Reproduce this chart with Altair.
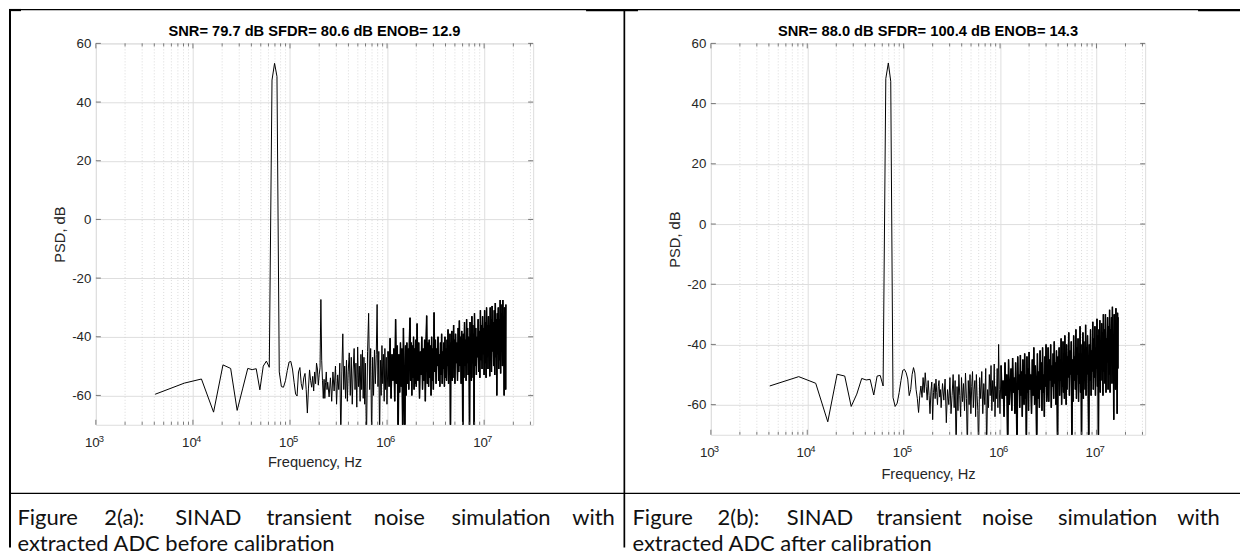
import altair as alt
import pandas as pd

# ---------------- data ----------------
FREQ_KHZ = [
    4.08, 8.16, 12.24, 16.32, 20.4, 24.48, 28.56, 32.64, 36.72, 40.8,
    44.88, 48.96, 53.04, 57.12, 61.2, 65.28, 69.36, 73.44, 77.52, 81.6,
    85.7, 89.8, 93.8, 97.9, 102.0, 106.1, 110.2, 114.2, 118.3, 122.4,
    126.5, 130.6, 134.6, 138.7, 142.8, 146.9, 151.0, 155.0, 159.1, 163.2,
    167.3, 171.4, 175.4, 179.5, 183.6, 187.7, 191.8, 195.8, 199.9, 204.0,
    208.1, 212.2, 216.2, 220.3, 224.4, 228.5, 232.6, 236.6, 240.7, 244.8,
    253, 261, 269, 277, 285, 294, 302, 310, 318, 326,
    334, 342, 350, 358, 366, 374, 382, 390, 398, 408,
    418, 428, 438, 448, 458, 468, 478, 488, 498, 508,
    518, 528, 538, 548, 558, 568, 578, 588, 598, 614,
    630, 646, 662, 678, 694, 710, 726, 742, 758, 774,
    790, 806, 822, 838, 854, 870, 886, 902, 918, 934,
    950, 966, 982, 998, 1025, 1050, 1075, 1100, 1125, 1150,
    1175, 1200, 1225, 1250, 1275, 1300, 1325, 1350, 1375, 1400,
    1425, 1450, 1475, 1500, 1525, 1550, 1575, 1600, 1625, 1650,
    1675, 1700, 1725, 1750, 1775, 1800, 1825, 1850, 1875, 1900,
    1925, 1950, 1975, 2000, 2040, 2080, 2120, 2160, 2200, 2240,
    2280, 2320, 2360, 2400, 2440, 2480, 2520, 2560, 2600, 2640,
    2680, 2720, 2760, 2800, 2840, 2880, 2920, 2960, 3000, 3050,
    3100, 3150, 3200, 3250, 3300, 3350, 3400, 3450, 3500, 3550,
    3600, 3650, 3700, 3750, 3800, 3850, 3900, 3950, 4000, 4050,
    4100, 4150, 4200, 4250, 4300, 4350, 4400, 4450, 4500, 4550,
    4600, 4650, 4700, 4750, 4800, 4850, 4900, 4950, 5000, 5080,
    5160, 5240, 5320, 5400, 5480, 5560, 5640, 5720, 5800, 5880,
    5960, 6040, 6120, 6200, 6280, 6360, 6440, 6520, 6600, 6680,
    6760, 6840, 6920, 7000, 7080, 7160, 7240, 7320, 7400, 7480,
    7560, 7640, 7720, 7800, 7880, 7960, 8080, 8200, 8320, 8440,
    8560, 8680, 8800, 8920, 9040, 9160, 9280, 9400, 9520, 9640,
    9760, 9880, 10000, 10120, 10240, 10360, 10480, 10600, 10720, 10840,
    10960, 11080, 11200, 11320, 11440, 11560, 11680, 11800, 11920, 12080,
    12240, 12400, 12560, 12720, 12880, 13040, 13200, 13360, 13520, 13680,
    13840, 14000, 14160, 14320, 14480, 14640, 14800, 14960, 15120, 15280,
    15440, 15600, 15760, 15920, 16080, 16240, 16400, 16560, 16680, 16760,
]

PSD_A_DB = [
    -59.6, -55.8, -54.4, -65.7, -49.6, -50.8, -65.1, -57.5, -50.8, -51.2,
    -50.9, -58.1, -50.0, -48.3, -50.4, 47.5, 53.2, 48.7, -52.0, -57.0,
    -57.2, -55.0, -51.5, -48.6, -48.4, -51.0, -55.5, -59.5, -60.2, -52.0,
    -50.5, -56.0, -58.0, -54.0, -52.5, -58.0, -66.0, -57.5, -51.3, -55.0,
    -57.2, -53.5, -58.5, -52.0, -56.0, -49.0, -51.0, -56.5, -53.0, -50.5,
    -27.3, -48.0, -55.0, -61.0, -54.5, -61.0, -55.5, -52.0, -58.0, -55.5,
    -60.5, -54.0, -62.0, -52.0, -58.5, -50.0, -63.0, -53.0, -58.0, -49.0,
    -75.0, -52.0, -39.0, -58.0, -50.0, -61.0, -48.0, -62.0, -52.0, -45.5,
    -60.0, -47.0, -63.0, -51.0, -44.0, -58.0, -49.0, -64.0, -43.5, -57.0,
    -50.0, -62.0, -46.0, -58.0, -44.5, -61.0, -47.0, -63.0, -49.0, -76.0,
    -45.0, -32.0, -58.0, -44.0, -76.0, -47.0, -60.0, -44.5, -56.0, -46.0,
    -29.0, -57.0, -45.0, -76.0, -48.0, -60.0, -43.0, -56.0, -46.0, -62.0,
    -44.0, -58.0, -47.0, -63.0, -45.0, -57.0, -40.5, -61.0, -46.0, -55.0,
    -44.0, -62.0, -34.0, -56.0, -43.0, -76.0, -46.0, -59.0, -42.0, -57.0,
    -44.0, -76.0, -37.0, -58.0, -76.0, -43.0, -60.0, -42.0, -56.0, -44.0,
    -58.0, -41.0, -33.5, -55.0, -42.0, -60.0, -43.0, -54.0, -40.0, -58.0,
    -44.0, -56.0, -41.0, -57.0, -35.5, -55.0, -42.0, -61.0, -45.0, -53.0,
    -40.0, -58.0, -44.0, -55.0, -41.0, -62.0, -43.0, -32.8, -56.0, -42.0,
    -57.0, -41.0, -54.0, -43.0, -60.0, -40.0, -55.0, -44.0, -58.0, -31.7,
    -52, -41, -56, -44, -50, -40, -55, -46, -57, -42,
    -53, -39, -56, -45, -51, -42, -57, -40, -54, -44,
    -55, -41, -50, -37.5, -56, -43, -52, -39, -76, -42,
    -51, -38, -55, -43, -50, -36, -54, -41, -56, -39,
    -49, -42, -55, -37, -52, -34.5, -50, -40, -56, -38,
    -48, -76, -39, -54, -35, -50, -41, -55, -34, -49,
    -37, -53, -40, -48, -76, -35, -52, -39, -55, -33,
    -49, -36, -54, -39, -76, -32, -50, -37, -53, -40,
    -47, -34, -52, -38, -54, -31, -48, -36, -51, -33,
    -46, -37, -53, -31, -49, -35, -54, -30, -47, -36,
    -51, -33, -46, -36, -53.5, -30, -48, -34, -52, -29.5,
    -45, -35, -50, -31, -53, -28.5, -47, -34, -60, -32,
    -46, -30, -51, -34, -48, -27.5, -52.5, -32, -45, -29,
    -50, -27.5, -46, -33, -60, -30, -48, -31, -58, -29,
]

PSD_B_DB = [
    -53.8, -50.7, -52.9, -65.7, -49.9, -50.5, -60.6, -56.5, -51.3, -51.8,
    -51.6, -56.8, -50.5, -50.3, -53.8, 48.3, 53.5, 47.4, -57.6, -60.6,
    -59.5, -56.0, -52.0, -48.6, -48.3, -49.4, -51.5, -57.0, -55.0, -50.0,
    -47.7, -49.5, -55.0, -58.0, -62.6, -57.0, -53.8, -57.6, -51.0, -56.0,
    -49.4, -54.0, -58.5, -52.0, -57.0, -63.0, -55.5, -52.5, -65.0, -56.0,
    -53.0, -58.0, -51.5, -56.0, -60.0, -54.0, -52.0, -57.5, -55.0, -61.0,
    -53, -58.5, -51.5, -66.0, -55, -60, -51, -63, -57, -50,
    -61, -52, -76, -54, -62, -50, -57, -64, -51, -59,
    -53, -62, -49.5, -58, -76, -52, -60, -50, -63, -54,
    -49, -61, -55, -52, -64, -50, -57, -62, -76, -51,
    -58, -49, -63, -53, -60, -48, -76, -55, -61, -50,
    -57, -47, -62, -52, -59, -46.5, -64, -54, -58, -48,
    -61, -40, -55, -63, -47, -58, -52, -64, -46, -57,
    -50, -76, -45, -60, -53, -48, -62, -44.5, -56, -51,
    -63, -46, -58, -76, -44, -55, -50, -61, -43.5, -57,
    -49, -64, -45, -54, -60, -43, -58, -50, -76, -44,
    -56, -48, -62, -42.5, -55, -50, -63, -45, -57, -41,
    -60, -47, -53, -76, -43, -58, -49, -61, -42, -55,
    -46, -62, -41, -56, -50, -64, -44, -54, -40, -59,
    -55, -41, -59, -45, -52, -40, -61, -47, -54, -43,
    -58, -39, -53, -46, -60, -42, -55, -76, -44, -51,
    -41, -57, -45, -52, -38, -60, -47, -54, -39, -56,
    -43, -58, -37, -53, -46, -60, -40, -55, -44, -51,
    -36, -57, -42, -50, -39, -76, -45, -59, -37, -52,
    -44, -55, -35, -58, -41, -50, -38, -59, -43, -53,
    -34, -56, -40, -76, -43, -51, -36, -58, -39, -52,
    -45, -55, -33.5, -57, -41, -50, -37, -53, -76, -40,
    -52, -35, -57, -42, -49, -32.5, -55, -38, -51, -34,
    -57, -41, -48, -31.5, -54, -37, -76, -35, -50, -32,
    -56, -39, -47, -33, -52, -36, -57, -30, -49, -35,
    -53, -30, -56, -38, -46, -31, -55, -34, -50, -28.5,
    -56, -35, -45, -31, -53, -27.5, -49, -37, -65, -30,
    -47, -32, -55, -28, -51, -34, -63, -29.5, -48, -31,
]

assert len(FREQ_KHZ) == len(PSD_A_DB) == len(PSD_B_DB), (len(FREQ_KHZ), len(PSD_A_DB), len(PSD_B_DB))

TITLE_A = "SNR= 79.7 dB SFDR= 80.6 dB ENOB= 12.9"
TITLE_B = "SNR= 88.0 dB SFDR= 100.4 dB ENOB= 14.3"
CAPTION_A = ["Figure 2(a): SINAD transient noise simulation with",
             "extracted ADC before calibration"]
CAPTION_B = ["Figure 2(b): SINAD transient noise simulation with",
             "extracted ADC after calibration"]
X_TITLE = "Frequency, Hz"
Y_TITLE = "PSD, dB"
X_DECADES = [1e3, 1e4, 1e5, 1e6, 1e7]
X_EXPONENTS = ["3", "4", "5", "6", "7"]
X_MINOR = [m * d for d in X_DECADES for m in range(2, 10) if m * d <= 3.2e7]
Y_TICKS = [-60, -40, -20, 0, 20, 40, 60]
X_DOMAIN = [1e3, 3.2e7]
Y_DOMAIN = [-70, 60]
DENSE_FROM_HZ = 1e6

# ---------------- styling ----------------
FONT = "Liberation Sans"
CAP_FONT = "Lato"
CAP_SIZE = 22
CAP_SCALE = 0.93          # Lato width relative to Arial (estimate)
TXT = "#262626"
GRID = "#dedede"
MINOR_GRID = "#d2d2d2"
TICK = "#5a5a5a"

# Arial advance widths (1/1000 em)
AW = {"F": 611, "i": 222, "g": 556, "u": 556, "r": 333, "e": 556, " ": 278,
      "2": 556, "(": 333, "a": 556, "b": 556, ")": 333, ":": 278, "S": 667,
      "I": 278, "N": 722, "A": 667, "D": 722, "t": 278, "n": 556, "s": 500,
      "o": 556, "m": 833, "l": 222, "w": 722, "h": 556, "x": 500, "c": 500,
      "d": 556, "f": 278, "C": 722}


def text_width(s, size):
    return sum(AW.get(ch, 556) for ch in s) / 1000.0 * CAP_SCALE * size


def block(x1, x2, y1, y2, color="black"):
    # filled rectangle (no stroke, so its bounds are exact)
    return alt.Chart(pd.DataFrame({"k": [0]})).mark_rect(
        color=color, strokeWidth=0).encode(
        x=alt.value(x1), x2=alt.value(x2), y=alt.value(y1), y2=alt.value(y2))


def caption_layers(lines, left, right, y1, y2):
    out = []
    words = lines[0].split(" ")
    widths = [text_width(w, CAP_SIZE) for w in words]
    gap = (right - left - sum(widths)) / (len(words) - 1)
    pos = left
    for w, wd in zip(words, widths):
        out.append(alt.Chart(pd.DataFrame({"t": [w]})).mark_text(
            align="left", baseline="middle", font=CAP_FONT, fontSize=CAP_SIZE,
            color="#111111").encode(x=alt.value(pos), y=alt.value(y1), text="t:N"))
        pos += wd + gap
    out.append(alt.Chart(pd.DataFrame({"t": [lines[1]]})).mark_text(
        align="left", baseline="middle", font=CAP_FONT, fontSize=CAP_SIZE,
        color="#111111").encode(x=alt.value(left), y=alt.value(y2), text="t:N"))
    return out


def panel(psd, title, caption, W, H, cap_right, x_title_pad, with_table):
    xs = alt.Scale(type="log", domain=X_DOMAIN, nice=False)
    ys = alt.Scale(domain=Y_DOMAIN, nice=False, zero=False)
    xax = alt.Axis(values=X_DECADES, labelExpr="'10'", title=X_TITLE, grid=True,
                   gridColor=GRID, domain=False, ticks=False, tickSize=0,
                   labelPadding=11, labelOffset=-4, labelFontSize=13.3,
                   labelColor=TXT, titleColor=TXT, titleFontSize=14.7,
                   titleFontWeight="normal", titlePadding=x_title_pad, labelFlush=False,
                   labelOverlap=False, labelFont=FONT, titleFont=FONT)
    yax = alt.Axis(values=Y_TICKS, labelExpr="'' + datum.value", title=Y_TITLE,
                   grid=True, gridColor=GRID,
                   domain=False, ticks=False, tickSize=0, labelPadding=5,
                   labelFontSize=13.3, labelColor=TXT, titleColor=TXT,
                   titleFontSize=14.7, titleFontWeight="normal", titlePadding=4,
                   labelFlush=False, labelFont=FONT, titleFont=FONT)
    X = alt.X("f:Q", scale=xs, axis=xax)
    Y = alt.Y("psd:Q", scale=ys, axis=yax)

    df = pd.DataFrame({"f": [k * 1000.0 for k in FREQ_KHZ], "psd": psd})
    minor = pd.DataFrame({"f": X_MINOR})
    major = pd.DataFrame({"f": X_DECADES, "e": X_EXPONENTS})
    yt = pd.DataFrame({"psd": Y_TICKS})

    layers = [
        alt.Chart(minor).mark_rule(color=MINOR_GRID, strokeDash=[1, 2], strokeWidth=0.8)
        .encode(x=X, y=alt.value(0), y2=alt.value(H)),
        alt.Chart(df).mark_line(color="black", strokeWidth=1.0, clip=True)
        .encode(x=X, y=Y),
        # the densely sampled noise band is drawn a little heavier
        alt.Chart(df).transform_filter(alt.datum.f >= DENSE_FROM_HZ)
        .mark_line(color="black", strokeWidth=1.5, clip=True)
        .encode(x=X, y=Y),
        alt.Chart(major).mark_rule(color=TICK, strokeWidth=0.8)
        .encode(x=X, y=alt.value(H), y2=alt.value(H - 5)),
        alt.Chart(major).mark_rule(color=TICK, strokeWidth=0.8)
        .encode(x=X, y=alt.value(0), y2=alt.value(5)),
        alt.Chart(minor).mark_rule(color=TICK, strokeWidth=0.8)
        .encode(x=X, y=alt.value(H), y2=alt.value(H - 3)),
        alt.Chart(minor).mark_rule(color=TICK, strokeWidth=0.8)
        .encode(x=X, y=alt.value(0), y2=alt.value(3)),
        alt.Chart(yt).mark_rule(color=TICK, strokeWidth=0.8)
        .encode(y=Y, x=alt.value(0), x2=alt.value(5)),
        alt.Chart(yt).mark_rule(color=TICK, strokeWidth=0.8)
        .encode(y=Y, x=alt.value(W - 5), x2=alt.value(W)),
        alt.Chart(major).mark_text(align="left", baseline="top", dx=3, fontSize=9.5,
                                   font=FONT, color=TXT)
        .encode(x=X, y=alt.value(H + 9), text="e:N"),
        alt.Chart(pd.DataFrame({"t": [title]})).mark_text(
            fontSize=14.7, fontWeight="bold", font=FONT, color="black", baseline="middle")
        .encode(x=alt.value(W / 2), y=alt.value(-11), text="t:N"),
    ]
    layers += caption_layers(caption, -78.5, cap_right, 475.5, 501.5)

    if with_table:
        top, left, right, bottom = -34.5, -87.0, 1146.0, 505.0
        layers += [
            block(left, right, top, top + 1.2),                 # top rule
            block(left, -75.0, top, top + 2.2),                 # heavier pieces
            block(491.0, 543.0, top, top + 2.2),
            block(1104.0, right, top, top + 2.2),
            block(left, left + 2.0, top, bottom),               # left border
            block(528.5, 530.2, top, bottom),                   # middle divider
            block(left, right, 450.0, 451.3),                   # caption row rule
        ]
    return alt.layer(*layers).properties(width=W, height=H)


pa = panel(PSD_A_DB, TITLE_A, CAPTION_A, 438, 382, 513.5, 5, True)
pb = panel(PSD_B_DB, TITLE_B, CAPTION_B, 435, 392, 503.5, 8, False)

chart = (
    alt.hconcat(pa, pb, spacing=178, bounds="flush")
    .properties(padding={"left": 0, "top": 0, "right": 0, "bottom": 0})
    .configure_view(stroke="#808080", strokeWidth=1)
    .configure(font=FONT, background="white")
)

chart.save("out.html", embed_options={"renderer": "svg", "actions": False})
